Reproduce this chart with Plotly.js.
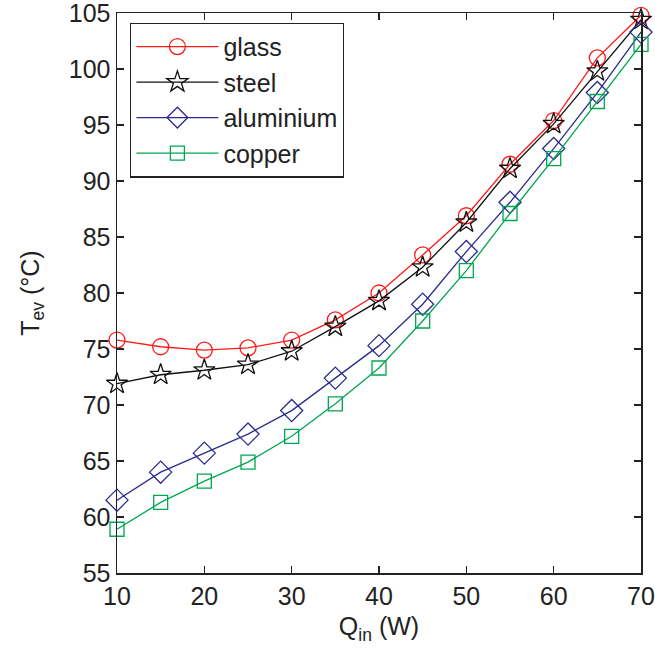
<!DOCTYPE html>
<html>
<head>
<meta charset="utf-8">
<script src="https://cdn.plot.ly/plotly-3.0.1.min.js"></script>
<style>html,body{margin:0;padding:0;background:#fff;}#chart{width:655px;height:657px;}</style>
</head>
<body>
<div id="chart"></div>
<script>
const qin = [10, 15, 20, 25, 30, 35, 40, 45, 50, 55, 60, 65, 70];
const glass = [75.8, 75.2, 74.9, 75.1, 75.8, 77.6, 80.0, 83.4, 86.9, 91.5, 95.4, 101.0, 104.8];
const steel = [71.9, 72.7, 73.1, 73.6, 74.8, 77.0, 79.3, 82.3, 86.3, 91.1, 95.1, 99.8, 104.4];
const aluminium = [61.5, 64.0, 65.7, 67.4, 69.5, 72.4, 75.3, 79.0, 83.7, 88.1, 92.9, 97.9, 103.3];
const copper = [58.9, 61.3, 63.2, 64.9, 67.2, 70.1, 73.3, 77.5, 82.0, 87.1, 92.0, 97.1, 102.2];
const names = ['glass', 'steel', 'aluminium', 'copper'];
const xTicks = [10, 20, 30, 40, 50, 60, 70];
const yTicks = [55, 60, 65, 70, 75, 80, 85, 90, 95, 100, 105];

const series = [glass, steel, aluminium, copper];
const colors = ['#ff1a1a', '#111111', '#2b2b8c', '#00a651'];
const symbols = ['circle-open', 'star-open', 'diamond-open', 'square-open'];
const sizes = [16, 16, 17, 14];

const traces = series.map((ys, i) => ({
  x: qin, y: ys, name: names[i], type: 'scatter', mode: 'lines+markers',
  cliponaxis: false,
  line: {color: colors[i], width: 1.3},
  marker: {symbol: symbols[i], size: sizes[i], color: colors[i], line: {width: 1.3, color: colors[i]}}
}));

const font = 'Liberation Sans, Arial, Helvetica, sans-serif';
const layout = {
  width: 655, height: 657,
  margin: {l: 117, r: 14, t: 13, b: 84},
  paper_bgcolor: '#fff', plot_bgcolor: '#fff',
  font: {family: font, size: 25, color: '#222'},
  showlegend: true,
  legend: {
    x: 0.025, y: 0.983, xanchor: 'left', yanchor: 'top',
    bgcolor: '#fff', bordercolor: '#222', borderwidth: 1.3,
    font: {family: font, size: 25, color: '#222'},
    itemwidth: 82, tracegroupgap: 0
  },
  xaxis: {
    range: [10, 70], tickvals: xTicks, ticktext: xTicks.map(String),
    ticks: 'inside', ticklen: 7, tickwidth: 1.3, tickcolor: '#222',
    showline: true, linecolor: '#222', linewidth: 1.5, mirror: 'ticks',
    showgrid: false, zeroline: false, ticklabeloverflow: 'allow',
    tickfont: {family: font, size: 25, color: '#222'},
    title: {text: 'Q<sub>in</sub> (W)', font: {family: font, size: 25, color: '#222'}, standoff: 9}
  },
  yaxis: {
    range: [54.995, 105.005], tickvals: yTicks, ticktext: yTicks.map(String),
    ticks: 'inside', ticklen: 7, tickwidth: 1.3, tickcolor: '#222',
    showline: true, linecolor: '#222', linewidth: 1.5, mirror: 'ticks',
    showgrid: false, zeroline: false, ticklabeloverflow: 'allow',
    tickfont: {family: font, size: 25, color: '#222'},
    title: {text: 'T<sub>ev</sub> (°C)', font: {family: font, size: 25, color: '#222'}, standoff: 22}
  }
};

Plotly.newPlot('chart', traces, layout, {staticPlot: true, displayModeBar: false});
</script>
</body>
</html>
